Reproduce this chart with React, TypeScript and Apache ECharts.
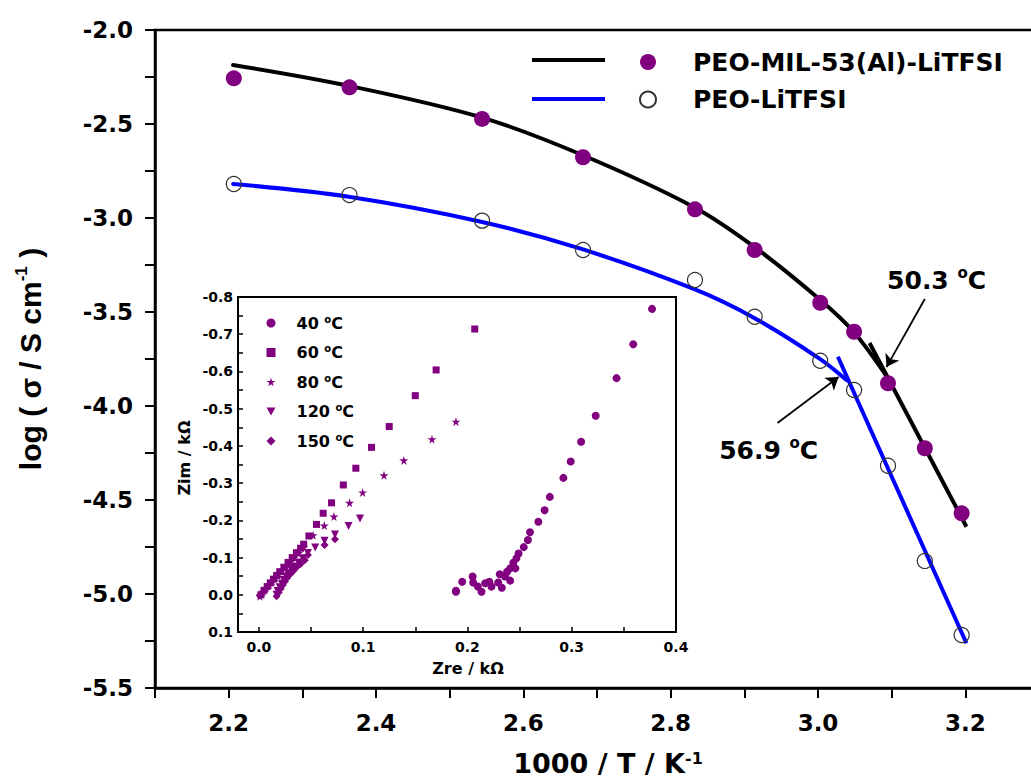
import React, { useEffect, useRef } from 'react';
import * as echarts from 'echarts';

// ---- main plot data (1000/T, log sigma) ----
const milPoints: number[][] = [
  [2.207, -2.257], [2.364, -2.305], [2.544, -2.473], [2.681, -2.677], [2.833, -2.954],
  [2.914, -3.170], [3.003, -3.451], [3.049, -3.605], [3.095, -3.879], [3.145, -4.225], [3.195, -4.571],
];
const peoPoints: number[][] = [
  [2.207, -2.819], [2.364, -2.878], [2.544, -3.014], [2.681, -3.170], [2.833, -3.330],
  [2.914, -3.525], [3.003, -3.759], [3.049, -3.915], [3.095, -4.318], [3.145, -4.824], [3.195, -5.218],
];
const milFitCurve: number[][] = [
  [2.206, -2.186], [2.363, -2.297], [2.544, -2.466], [2.680, -2.665], [2.833, -2.945],
  [2.914, -3.155], [3.002, -3.432], [3.048, -3.604], [3.095, -3.853],
];
const milFitLine: number[][] = [[3.070, -3.665], [3.2015, -4.642]];
const peoFitCurve: number[][] = [
  [2.206, -2.819], [2.363, -2.887], [2.544, -3.021], [2.680, -3.166], [2.833, -3.380],
  [2.914, -3.533], [3.002, -3.748], [3.0386, -3.862],
];
const peoFitLine: number[][] = [[3.027, -3.738], [3.2015, -5.262]];

const xTicksLabelled = [2.2, 2.4, 2.6, 2.8, 3.0, 3.2];
const yTicksLabelled = [-2.0, -2.5, -3.0, -3.5, -4.0, -4.5, -5.0, -5.5];

// ---- inset data (Zre, Zim in kOhm) ----
const z40: number[][] = [
  [0.189, -0.008], [0.189, -0.011], [0.195, -0.035], [0.205, -0.049], [0.2055, -0.033],
  [0.210, -0.022], [0.2135, -0.008], [0.217, -0.031], [0.221, -0.035], [0.223, -0.022],
  [0.2295, -0.033], [0.233, -0.019], [0.231, -0.055], [0.236, -0.049], [0.241, -0.038],
  [0.238, -0.062], [0.241, -0.071], [0.246, -0.071], [0.244, -0.086], [0.247, -0.098],
  [0.249, -0.111], [0.254, -0.128], [0.258, -0.147], [0.260, -0.168], [0.268, -0.196],
  [0.274, -0.227], [0.279, -0.263], [0.292, -0.314], [0.299, -0.358], [0.309, -0.411],
  [0.323, -0.481], [0.343, -0.582], [0.359, -0.673], [0.377, -0.768],
];
const z60: number[][] = [
  [0.002, 0.0], [0.005, -0.012], [0.008, -0.022], [0.011, -0.032], [0.014, -0.042],
  [0.017, -0.052], [0.020, -0.062], [0.024, -0.074], [0.028, -0.087], [0.032, -0.100],
  [0.036, -0.113], [0.040, -0.125], [0.043, -0.136], [0.048, -0.158], [0.0553, -0.189],
  [0.0617, -0.219], [0.0697, -0.247], [0.081, -0.295], [0.093, -0.340], [0.108, -0.396],
  [0.125, -0.452], [0.150, -0.535], [0.170, -0.604], [0.207, -0.714],
];
const z80: number[][] = [
  [0.001, 0.004], [0.004, -0.008], [0.007, -0.018], [0.010, -0.027], [0.013, -0.036],
  [0.016, -0.045], [0.019, -0.055], [0.022, -0.064], [0.026, -0.076], [0.030, -0.088],
  [0.034, -0.100], [0.038, -0.112], [0.043, -0.128], [0.052, -0.160], [0.0627, -0.186],
  [0.072, -0.210], [0.087, -0.247], [0.0995, -0.275], [0.120, -0.321], [0.139, -0.361],
  [0.166, -0.418], [0.189, -0.465],
];
const z120: number[][] = [
  [0.017, 0.0], [0.018, -0.010], [0.020, -0.020], [0.022, -0.030], [0.024, -0.040],
  [0.026, -0.050], [0.028, -0.058], [0.031, -0.067], [0.034, -0.076], [0.038, -0.087],
  [0.042, -0.098], [0.047, -0.112], [0.054, -0.127], [0.063, -0.145], [0.073, -0.162],
  [0.086, -0.185], [0.097, -0.205],
];
const z150: number[][] = [
  [0.001, 0.001], [0.003, -0.004], [0.017, 0.004], [0.019, -0.006], [0.021, -0.016],
  [0.023, -0.026], [0.025, -0.036], [0.027, -0.045], [0.030, -0.055], [0.033, -0.064],
  [0.036, -0.073], [0.040, -0.083], [0.044, -0.093], [0.047, -0.107], [0.063, -0.134],
  [0.073, -0.149],
];
const insetNames = ['40', '60', '80', '120', '150'];
const insetXLabels = [0, 0.1, 0.2, 0.3, 0.4];
const insetXTicks = [0, 0.05, 0.1, 0.15, 0.2, 0.25, 0.3, 0.35, 0.4];

const seriesMil = 'PEO-MIL-53(Al)-LiTFSI';
const seriesPeo = 'PEO-LiTFSI';

const FONT = 'DejaVu Sans';
const PURPLE = '#800080';
const STAR = 'path://M50,0L61,35L98,35L68,57L79,91L50,70L21,91L32,57L2,35L39,35Z';
const TRI_DOWN = 'path://M0,0L10,0L5,9Z';

const near = (v: number, list: number[]) => list.some((t) => Math.abs(t - v) < 1e-6);

export default function App() {
  const ref = useRef<HTMLDivElement>(null);
  useEffect(() => {
    if (!ref.current) return;
    const chart = echarts.init(ref.current, undefined, { renderer: 'svg' });
    const bold = { fontFamily: FONT, fontWeight: 'bold' as const, color: '#000' };
    const lineLegend = (name: string, top: number) => ({
      data: [{ name, icon: 'rect' }], orient: 'vertical', left: 532, top, padding: 0,
      itemWidth: 73, itemHeight: 4, symbolKeepAspect: false, selectedMode: false,
      formatter: () => '', textStyle: { fontSize: 4, lineHeight: 4 },
    });
    const option: any = {
      animation: false,
      backgroundColor: '#fff',
      grid: [
        {
          left: 155, top: 30, width: 884, height: 658, outerBoundsMode: 'none', containLabel: false,
          show: true, borderColor: '#000', borderWidth: 2.5, backgroundColor: 'transparent',
        },
        {
          left: 238, top: 297, width: 438, height: 335, outerBoundsMode: 'none', containLabel: false,
          show: true, borderColor: '#000', borderWidth: 2, backgroundColor: '#fff',
        },
      ],
      xAxis: [
        {
          type: 'value', gridIndex: 0, min: 2.1, max: 3.3, interval: 0.1,
          axisLine: { onZero: false, lineStyle: { color: '#000', width: 2.5 } },
          axisTick: { length: 10, lineStyle: { color: '#000', width: 2 } },
          axisLabel: {
            ...bold, fontSize: 23, margin: 23,
            formatter: (v: number) => (near(v, xTicksLabelled) ? v.toFixed(1) : ''),
          },
          splitLine: { show: false },
          name: '{a|1000 / T / K}{s|-1}', nameLocation: 'middle', nameGap: 62,
          nameTextStyle: {
            padding: [0, 0, 0, 22],
            rich: {
              a: { ...bold, fontSize: 27, lineHeight: 26 },
              s: { ...bold, fontSize: 16, lineHeight: 16, verticalAlign: 'top' },
            },
          },
        },
        {
          type: 'value', gridIndex: 1, min: -0.02, max: 0.4,
          axisLine: { onZero: false, lineStyle: { color: '#000', width: 2 } },
          axisTick: { inside: true, length: 5, lineStyle: { color: '#000', width: 1.5 }, customValues: insetXTicks },
          axisLabel: { ...bold, fontSize: 14, margin: 8, customValues: insetXLabels, formatter: (v: number) => v.toFixed(1) },
          splitLine: { show: false },
          name: 'Zre / kΩ', nameLocation: 'middle', nameGap: 28,
          nameTextStyle: { ...bold, fontSize: 16, padding: [0, 0, 0, 22] },
        },
      ],
      yAxis: [
        {
          type: 'value', gridIndex: 0, min: -5.5, max: -2.0, interval: 0.25,
          axisLine: { onZero: false, lineStyle: { color: '#000', width: 2.5 } },
          axisTick: { length: 10, lineStyle: { color: '#000', width: 2 } },
          axisLabel: {
            ...bold, fontSize: 23, margin: 22,
            formatter: (v: number) => (near(v, yTicksLabelled) ? v.toFixed(1) : ''),
          },
          splitLine: { show: false },
          name: '{a|log ( σ / S cm}{s|-1}{a| )}', nameLocation: 'middle', nameGap: 108, nameRotate: 90,
          nameTextStyle: {
            rich: {
              a: { fontFamily: 'Liberation Sans', fontWeight: 'bold', color: '#000', fontSize: 30, lineHeight: 34 },
              s: { fontFamily: 'Liberation Sans', fontWeight: 'bold', color: '#000', fontSize: 17, lineHeight: 18, verticalAlign: 'top' },
            },
          },
        },
        {
          type: 'value', gridIndex: 1, min: -0.8, max: 0.1, interval: 0.05, inverse: true,
          axisLine: { onZero: false, lineStyle: { color: '#000', width: 2 } },
          axisTick: { inside: true, length: 5, lineStyle: { color: '#000', width: 1.5 } },
          axisLabel: {
            ...bold, fontSize: 14, margin: 5,
            formatter: (v: number) => (Math.abs(Math.round(v * 100)) % 10 === 0 ? v.toFixed(1) : ''),
          },
          splitLine: { show: false },
          name: 'Zim / kΩ', nameLocation: 'middle', nameGap: 46, nameRotate: 90,
          nameTextStyle: { ...bold, fontSize: 16, padding: [0, 0, 0, 13] },
        },
      ],
      legend: [
        lineLegend('fitMil', 58),
        lineLegend('fitPeo', 97),
        {
          data: [seriesMil, seriesPeo], orient: 'vertical', left: 639, top: 49, padding: 0,
          itemWidth: 16, itemHeight: 16, itemGap: 11.5, selectedMode: false,
          textStyle: { ...bold, fontSize: 25, lineHeight: 26, width: 315, padding: [0, 0, 0, 32] },
        },
        {
          data: insetNames, orient: 'vertical', left: 266.5, top: 314, padding: 0,
          itemWidth: 9, itemHeight: 9, itemGap: 12.5, selectedMode: false,
          formatter: (n: string) => `{a|${n} }{s|o}{a|C}`,
          textStyle: {
            padding: [0, 0, 0, 16],
            rich: {
              a: { ...bold, fontSize: 16, lineHeight: 18 },
              s: { ...bold, fontSize: 10, lineHeight: 11, verticalAlign: 'top' },
            },
          },
        },
      ],
      series: [
        {
          name: 'fitMil', type: 'line', xAxisIndex: 0, yAxisIndex: 0, data: milFitCurve,
          smooth: 0.35, symbol: 'none', z: 2,
          lineStyle: { color: '#000', width: 4, cap: 'round' }, itemStyle: { color: '#000' },
        },
        {
          name: 'fitMilLine', type: 'line', xAxisIndex: 0, yAxisIndex: 0, data: milFitLine,
          symbol: 'none', z: 2, lineStyle: { color: '#000', width: 4 }, itemStyle: { color: '#000' },
          markLine: {
            silent: true, symbol: ['none', 'arrow'], symbolSize: 12,
            label: { show: false },
            lineStyle: { color: '#000', width: 1.8, type: 'solid' },
            data: [
              [{ coord: [3.145, -3.431] }, { coord: [3.093, -3.793] }],
              [{ coord: [2.945, -4.090] }, { coord: [3.028, -3.846] }],
            ],
          },
          markPoint: {
            silent: true, symbol: 'circle', symbolSize: 1, itemStyle: { color: 'transparent' },
            label: {
              show: true, position: 'inside',
              rich: {
                a: { ...bold, fontSize: 25, lineHeight: 30 },
                s: { ...bold, fontSize: 15, lineHeight: 16, verticalAlign: 'top' },
              },
            },
            data: [
              { coord: [3.161, -3.330], label: { formatter: '{a|50.3 }{s|o}{a|C}' } },
              { coord: [2.933, -4.239], label: { formatter: '{a|56.9 }{s|o}{a|C}' } },
            ],
          },
        },
        {
          name: 'fitPeo', type: 'line', xAxisIndex: 0, yAxisIndex: 0, data: peoFitCurve,
          smooth: 0.35, symbol: 'none', z: 2,
          lineStyle: { color: '#0000ff', width: 4, cap: 'round' }, itemStyle: { color: '#0000ff' },
        },
        {
          name: 'fitPeoLine', type: 'line', xAxisIndex: 0, yAxisIndex: 0, data: peoFitLine,
          symbol: 'none', z: 2, lineStyle: { color: '#0000ff', width: 4 }, itemStyle: { color: '#0000ff' },
        },
        {
          name: seriesMil, type: 'scatter', xAxisIndex: 0, yAxisIndex: 0, data: milPoints,
          symbol: 'circle', symbolSize: 16, z: 3, itemStyle: { color: PURPLE, opacity: 1 },
        },
        {
          name: seriesPeo, type: 'scatter', xAxisIndex: 0, yAxisIndex: 0, data: peoPoints,
          symbol: 'circle', symbolSize: 15, z: 3,
          itemStyle: { color: 'transparent', borderColor: '#333', borderWidth: 1.2, opacity: 1 },
        },
        {
          name: '40', type: 'scatter', xAxisIndex: 1, yAxisIndex: 1, data: z40,
          symbol: 'circle', symbolSize: 8, itemStyle: { color: PURPLE, opacity: 1 },
        },
        {
          name: '60', type: 'scatter', xAxisIndex: 1, yAxisIndex: 1, data: z60,
          symbol: 'rect', symbolSize: 7, itemStyle: { color: PURPLE, opacity: 1 },
        },
        {
          name: '80', type: 'scatter', xAxisIndex: 1, yAxisIndex: 1, data: z80,
          symbol: STAR, symbolSize: 9, itemStyle: { color: PURPLE, opacity: 1 },
        },
        {
          name: '120', type: 'scatter', xAxisIndex: 1, yAxisIndex: 1, data: z120,
          symbol: TRI_DOWN, symbolSize: 8, itemStyle: { color: PURPLE, opacity: 1 },
        },
        {
          name: '150', type: 'scatter', xAxisIndex: 1, yAxisIndex: 1, data: z150,
          symbol: 'diamond', symbolSize: 8, itemStyle: { color: PURPLE, opacity: 1 },
        },
      ],
    };
    chart.setOption(option);
    return () => chart.dispose();
  }, []);
  return (
    <div
      ref={ref}
      style={{ position: 'fixed', left: 0, top: 0, width: 1031, height: 778, background: '#fff' }}
    />
  );
}
